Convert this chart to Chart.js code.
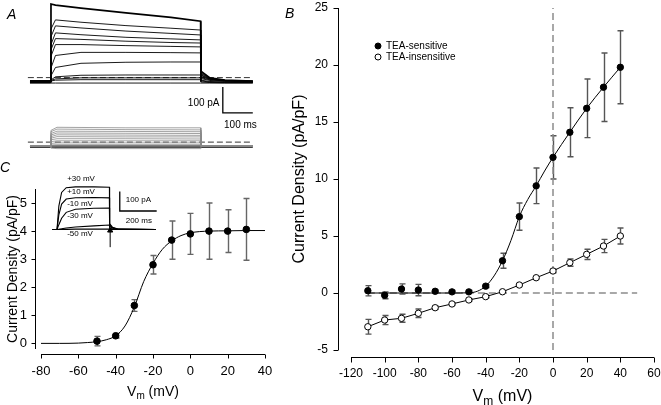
<!DOCTYPE html>
<html lang="en">
<head>
<meta charset="UTF-8">
<title>TEA-sensitive and TEA-insensitive currents</title>
<script src="https://cdn.jsdelivr.net/npm/chart.js"></script>
<style>
    body {
        margin: 0;
        background: #fff;
        overflow: hidden;
    }

    .fig {
        position: relative;
        width: 661px;
        height: 405px;
        overflow: hidden;
    }

    canvas {
        position: absolute;
    }

    #panelA { left: 0; top: 0; }
    #panelC { left: 0; top: 160px; }
    #insetC { left: 40px; top: 165px; }
    /* B canvas is larger than its slot so the tick label padding fits */
    #panelB { left: 260px; top: -24px; }
</style>
</head>
<body>
<div class="fig">
    <canvas id="panelA" width="260" height="160"></canvas>
    <canvas id="panelC" width="290" height="245"></canvas>
    <canvas id="insetC" width="130" height="90"></canvas>
    <canvas id="panelB" width="419" height="429"></canvas>
</div>

<script>
    // ---- panel A: current traces (ms, pA) ----
    const traceTime = [-70, -1, 0, 15, 100, 250, 400, 499, 500, 530, 580, 673];
    const topTraces = [
        [0, 0, 296, 292, 280, 262, 245, 230, 38, 12, 3, 0],
        [0, 0, 200, 235, 226, 213, 203, 196, 32, 10, 2, 0],
        [-2, -2, 170, 212, 204, 192, 183, 177, 28, 9, 2, -2],
        [-2, -2, 140, 185, 178, 168, 162, 158, 24, 8, 2, -2],
        [0, 0, 120, 163, 160, 153, 148, 146, 21, 7, 2, 0],
        [-3, -3, 95, 140, 140, 136, 133, 131, 17, 6, 1, -3],
        [-3, -3, 50, 98, 110, 110, 109, 108, 13, 4, 0, -3],
        [-5, -5, 20, 52, 68, 72, 73, 73, 9, 2, -2, -5],
        [-5, -5, 4, 16, 22, 23, 23, 23, 3, -2, -4, -5],
        [-6, -6, 2, 8, 12, 12, 12, 12, 0, -4, -6, -6],
        [-7, -7, 0, 3, 5, 5, 5, 5, -4, -6, -7, -7],
        [-8, -8, -8, -8, -8, -8, -8, -8, -8, -8, -8, -8]
    ];
    const bandTime = [-70, -1, 0, 20, 250, 499, 500, 673];
    const bottomTraces = [
        [0, 0, 60, 72, 70, 70, 0, 0],
        [0, 0, 55, 65, 63, 62, 0, 0],
        [0, 0, 48, 57, 56, 55, 0, 0],
        [0, 0, 42, 50, 49, 48, 0, 0],
        [0, 0, 36, 43, 42, 41, 0, 0],
        [0, 0, 30, 36, 35, 35, 0, 0],
        [0, 0, 24, 28, 28, 27, 0, 0],
        [0, 0, 17, 20, 20, 20, 0, 0],
        [0, 0, 10, 12, 12, 12, 0, 0],
        [0, 0, 4, 5, 5, 5, 0, 0],
        [0, 0, -3, -3, -3, -3, 0, 0],
        [0, 0, -8, -10, -10, -10, 0, 0]
    ];
    const bottomHold = [
        [0, 0, 0, 0, 0, 0, 0, 0],
        [-4, -4, -4, -4, -4, -4, -4, -4]
    ];
    const zeroLineT = [-77, 673];
    const topZero = [13, 13];
    const bottomZero = [15, 15];
    const barAT = [573, 573, 673];
    const barAI = [-23, -123, -123];

    // ---- panel B: I-V relations (mV, pA/pF) ----
    const ivVolt = [-110, -100, -90, -80, -70, -60, -50, -40, -30, -20, -10, 0, 10, 20, 30, 40];
    const teaSens = [0.2, -0.2, 0.35, 0.26, 0.15, 0.1, 0.1, 0.6, 2.83, 6.7, 9.4, 11.9, 14.1, 16.2, 18.05, 19.8];
    const teaSensErr = [0.45, 0.3, 0.45, 0.5, 0.12, 0.12, 0.12, 0.12, 0.66, 1.2, 1.56, 1.9, 2.15, 2.57, 3.0, 3.2];
    const teaIns = [-2.96, -2.37, -2.22, -1.78, -1.29, -0.96, -0.61, -0.32, 0.11, 0.7, 1.34, 1.93, 2.66, 3.39, 4.12, 5.0];
    const teaInsErr = [0.65, 0.4, 0.35, 0.37, 0.15, 0.1, 0.1, 0.1, 0.1, 0.1, 0.1, 0.15, 0.32, 0.45, 0.58, 0.7];
    const sensFitVolt = [-110, -100, -90, -80, -70, -60, -50, -45, -40, -35, -30, -25, -20, -15, -10, -5, 0, 10, 20, 30, 40];
    const sensFit = [0, 0, 0, 0, 0, 0, 0.02, 0.15, 0.6, 1.5, 2.83, 4.6, 6.7, 8.2, 9.4, 10.7, 11.9, 14.1, 16.2, 18.05, 19.8];
    const vZeroX = [0, 0];
    const vZeroY = [-5, 25];
    const hZeroX = [-110, 50];
    const hZeroY = [0, 0];
    const bXTicks = [-120, -100, -80, -60, -40, -20, 0, 20, 40, 60];
    const bYTicks = [-5, 0, 5, 10, 15, 20, 25];

    // ---- panel C: activation (mV, pA/pF) ----
    const actVolt = [-50, -40, -30, -20, -10, 0, 10, 20, 30];
    const actDens = [0.08, 0.27, 1.35, 2.8, 3.68, 3.9, 4.0, 4.0, 4.06];
    const actErr = [0.17, 0.08, 0.21, 0.33, 0.68, 0.73, 1.0, 0.76, 1.1];
    const actFitVolt = [-80, -70, -60, -55, -50, -45, -40, -35, -30, -25, -20, -15, -10, -5, 0, 10, 20, 30, 40];
    const actFit = [0, 0, 0.01, 0.03, 0.06, 0.13, 0.27, 0.62, 1.3, 2.2, 2.85, 3.35, 3.65, 3.84, 3.94, 4.0, 4.01, 4.02, 4.02];
    const cXTicks = [-80, -60, -40, -20, 0, 20, 40];
    const cYTicks = [0, 1, 2, 3, 4, 5];

    // ---- panel C inset traces (ms, pA) ----
    const insetTime = [-25, -1, 0, 10, 25, 50, 100, 200, 284, 285, 300, 330, 535];
    const insetTraces = [
        [0, 0, 0, 120, 190, 214, 218, 218, 216, 30, 12, 3, 0],
        [0, 0, 0, 75, 130, 156, 163, 164, 162, 24, 10, 2, 0],
        [0, 0, 0, 25, 58, 88, 104, 109, 110, 18, 7, 2, 0],
        [0, 0, 0, 2, 4, 8, 13, 19, 23, 8, 3, 1, 0],
        [0, 0, 0, 0, 1, 1, 2, 2, 2, 1, 0, 0, 0]
    ];
    const insetLabels = ['+30 mV', '+10 mV', '-10 mV', '-30 mV', '-50 mV'];
    const barInT = [340, 340, 540];
    const barInI = [195, 95, 95];
    const arrowT = [288, 288];
    const arrowI = [-90, -5];

    const FONT = 'Arial, "Liberation Sans", sans-serif';
    Chart.defaults.font.family = FONT;
    Chart.defaults.color = '#000';

    const pts = (xs, ys) => xs.map((x, i) => ({ x: x, y: ys[i] }));

    // axes drawn apart from the plot area, SigmaPlot style
    const offsetAxes = {
        id: 'offsetAxes',
        afterDraw(chart, args, o) {
            const { ctx, chartArea: a, scales: { x, y } } = chart;
            const yx = Math.round(a.left - o.gapY) + 0.5;
            const xy = Math.round(a.bottom + o.gapX) + 0.5;
            ctx.save();
            ctx.strokeStyle = '#000';
            ctx.lineWidth = 1;
            ctx.beginPath();
            ctx.moveTo(yx, y.getPixelForValue(y.max));
            ctx.lineTo(yx, y.getPixelForValue(y.min));
            y.ticks.forEach(t => {
                const p = Math.round(y.getPixelForValue(t.value)) + 0.5;
                ctx.moveTo(yx, p);
                ctx.lineTo(yx - o.tick, p);
            });
            ctx.moveTo(x.getPixelForValue(x.min), xy);
            ctx.lineTo(x.getPixelForValue(x.max), xy);
            x.ticks.forEach(t => {
                const p = Math.round(x.getPixelForValue(t.value)) + 0.5;
                ctx.moveTo(p, xy);
                ctx.lineTo(p, xy + o.tick);
            });
            ctx.stroke();
            ctx.restore();
        }
    };

    const errorBars = {
        id: 'errorBars',
        beforeDatasetsDraw(chart) {
            const { ctx, scales: { x, y } } = chart;
            chart.data.datasets.forEach(ds => {
                if (!ds.errors) return;
                ctx.save();
                ctx.strokeStyle = ds.errorColor || '#555';
                ctx.lineWidth = 1.4;
                ds.data.forEach((p, i) => {
                    const px = Math.round(x.getPixelForValue(p.x)) + 0.5;
                    const top = y.getPixelForValue(p.y + ds.errors[i]);
                    const bot = y.getPixelForValue(p.y - ds.errors[i]);
                    ctx.beginPath();
                    ctx.moveTo(px, top); ctx.lineTo(px, bot);
                    ctx.moveTo(px - 3, top); ctx.lineTo(px + 3, top);
                    ctx.moveTo(px - 3, bot); ctx.lineTo(px + 3, bot);
                    ctx.stroke();
                });
                ctx.restore();
            });
        }
    };

    // "Vm (mV)" with subscript m
    const vmTitle = {
        id: 'vmTitle',
        afterDraw(chart, args, o) {
            const { ctx, chartArea: a } = chart;
            const big = o.size + 'px ' + FONT, small = Math.round(o.size * 0.72) + 'px ' + FONT;
            ctx.save();
            ctx.fillStyle = '#000';
            ctx.textBaseline = 'middle';
            ctx.font = big;
            const w1 = ctx.measureText('V').width, w3 = ctx.measureText(' (mV)').width;
            ctx.font = small;
            const w2 = ctx.measureText('m').width;
            let x0 = (a.left + a.right) / 2 - (w1 + w2 + w3) / 2;
            const y0 = a.bottom + o.dy;
            ctx.font = big;
            ctx.fillText('V', x0, y0);
            ctx.font = small;
            ctx.fillText('m', x0 + w1, y0 + o.size * 0.3);
            ctx.font = big;
            ctx.fillText(' (mV)', x0 + w1 + w2, y0);
            ctx.restore();
        }
    };

    const panelTag = {
        id: 'panelTag',
        afterDraw(chart, args, o) {
            const ctx = chart.ctx;
            ctx.save();
            ctx.font = 'italic ' + o.size + 'px ' + FONT;
            ctx.fillStyle = '#000';
            ctx.textBaseline = 'middle';
            ctx.fillText(o.text, o.x, o.y);
            ctx.restore();
        }
    };

    // text placed at data coordinates
    const notes = {
        id: 'notes',
        afterDraw(chart, args, o) {
            const { ctx, scales } = chart;
            const ys = scales[o.yAxis || 'y'];
            ctx.save();
            ctx.font = o.size + 'px ' + FONT;
            ctx.fillStyle = '#000';
            ctx.textBaseline = 'middle';
            o.items.forEach(it => {
                ctx.textAlign = it.align || 'left';
                ctx.fillText(it.text, scales.x.getPixelForValue(it.x), ys.getPixelForValue(it.y));
            });
            ctx.restore();
        }
    };

    const ivLegend = {
        id: 'ivLegend',
        afterDraw(chart, args, o) {
            const ctx = chart.ctx;
            ctx.save();
            ctx.font = o.size + 'px ' + FONT;
            ctx.textBaseline = 'middle';
            o.datasets.forEach((k, i) => {
                const ds = chart.data.datasets[k];
                const y = o.y + i * o.gap;
                ctx.beginPath();
                ctx.arc(o.x, y, 3, 0, Math.PI * 2);
                ctx.fillStyle = ds.pointBackgroundColor;
                ctx.fill();
                ctx.lineWidth = 1;
                ctx.strokeStyle = '#000';
                ctx.stroke();
                ctx.fillStyle = '#000';
                ctx.fillText(ds.label, o.x + 8, y);
            });
            ctx.restore();
        }
    };

    const fixTicks = list => scale => { scale.ticks = list.map(v => ({ value: v })); };
    const hidden = { display: false };

    // ---- panel A ----
    const aSets = [];
    topTraces.forEach((tr, i) => aSets.push({
        data: pts(traceTime, tr), yAxisID: 'y',
        borderColor: '#000', borderWidth: i === 0 ? 1.7 : 0.9
    }));
    bottomTraces.forEach(tr => aSets.push({
        data: pts(bandTime, tr), yAxisID: 'y2',
        borderColor: '#8a8a8a', borderWidth: 0.8
    }));
    bottomHold.forEach(tr => aSets.push({
        data: pts(bandTime, tr), yAxisID: 'y2',
        borderColor: '#000', borderWidth: 1.2
    }));
    aSets.push({ data: pts(zeroLineT, topZero), yAxisID: 'y', borderColor: '#000', borderWidth: 0.8, borderDash: [6, 3] });
    aSets.push({ data: pts(zeroLineT, bottomZero), yAxisID: 'y2', borderColor: '#000', borderWidth: 0.8, borderDash: [6, 3] });
    aSets.push({ data: pts(barAT, barAI), yAxisID: 'y', borderColor: '#000', borderWidth: 1.3 });

    new Chart(document.getElementById('panelA'), {
        type: 'scatter',
        data: { datasets: aSets.map(d => Object.assign({ showLine: true, pointRadius: 0, fill: false }, d)) },
        options: {
            responsive: false, animation: false, devicePixelRatio: 1,
            layout: { padding: 0 },
            plugins: {
                legend: hidden, tooltip: { enabled: false },
                panelTag: { text: 'A', x: 7, y: 15, size: 14 },
                notes: {
                    size: 10, items: [
                        { text: '100 pA', x: 562, y: -85, align: 'right' },
                        { text: '100 ms', x: 577, y: -170 }
                    ]
                }
            },
            scales: {
                x: { type: 'linear', min: -170, max: 697, display: false },
                y: { min: -304, max: 311.5, display: false },
                y2: { min: -53.8, max: 561.5, display: false }
            }
        },
        plugins: [panelTag, notes]
    });

    // ---- panel B ----
    new Chart(document.getElementById('panelB'), {
        type: 'scatter',
        data: {
            datasets: [
                {
                    label: 'TEA-sensitive', data: pts(ivVolt, teaSens), errors: teaSensErr, errorColor: '#555',
                    pointRadius: 3.2, pointBackgroundColor: '#000', pointBorderColor: '#000', showLine: false, order: 1
                },
                {
                    label: 'TEA-insensitive', data: pts(ivVolt, teaIns), errors: teaInsErr, errorColor: '#555',
                    pointRadius: 3.2, pointBackgroundColor: '#fff', pointBorderColor: '#000', pointBorderWidth: 1,
                    showLine: true, borderColor: '#000', borderWidth: 1, order: 2
                },
                {
                    label: 'fit', data: pts(sensFitVolt, sensFit), showLine: true, pointRadius: 0,
                    borderColor: '#000', borderWidth: 1, tension: 0.4, cubicInterpolationMode: 'monotone', order: 3
                },
                {
                    label: 'zero V', data: pts(vZeroX, vZeroY), showLine: true, pointRadius: 0,
                    borderColor: '#8c8c8c', borderWidth: 1.5, borderDash: [7, 4], order: 4
                },
                {
                    label: 'zero I', data: pts(hZeroX, hZeroY), showLine: true, pointRadius: 0,
                    borderColor: '#8c8c8c', borderWidth: 1.5, borderDash: [7, 4], order: 5
                }
            ]
        },
        options: {
            responsive: false, animation: false, devicePixelRatio: 1,
            layout: { padding: { left: 0, top: 32, right: 25, bottom: 0 } },
            plugins: {
                legend: hidden, tooltip: { enabled: false },
                offsetAxes: { gapY: 13, gapX: 7, tick: 5 },
                vmTitle: { size: 16, dy: 47 },
                panelTag: { text: 'B', x: 25, y: 38, size: 14 },
                ivLegend: { datasets: [0, 1], x: 118, y: 70, gap: 11, size: 10 }
            },
            scales: {
                x: {
                    type: 'linear', min: -120, max: 60,
                    afterBuildTicks: fixTicks(bXTicks),
                    afterFit: s => { s.height = 55; },
                    grid: { display: false, drawTicks: false }, border: { display: false },
                    ticks: { font: { size: 12 }, padding: 16, maxRotation: 0, autoSkip: false }
                },
                y: {
                    min: -5, max: 25,
                    afterBuildTicks: fixTicks(bYTicks),
                    afterFit: s => { s.width = 91; },
                    grid: { display: false, drawTicks: false }, border: { display: false },
                    ticks: { font: { size: 12 }, padding: 23 },
                    title: { display: true, text: 'Current Density (pA/pF)', font: { size: 16 }, padding: { top: 30 } }
                }
            }
        },
        plugins: [errorBars, offsetAxes, vmTitle, panelTag, ivLegend]
    });

    // ---- panel C ----
    new Chart(document.getElementById('panelC'), {
        type: 'scatter',
        data: {
            datasets: [
                {
                    label: 'activation', data: pts(actVolt, actDens), errors: actErr, errorColor: '#666',
                    pointRadius: 3.3, pointBackgroundColor: '#000', pointBorderColor: '#000', showLine: false, order: 1
                },
                {
                    label: 'Boltzmann fit', data: pts(actFitVolt, actFit), showLine: true, pointRadius: 0,
                    borderColor: '#000', borderWidth: 1, tension: 0.4, cubicInterpolationMode: 'monotone', order: 2
                }
            ]
        },
        options: {
            responsive: false, animation: false, devicePixelRatio: 1,
            layout: { padding: { left: 0, top: 29, right: 25, bottom: 0 } },
            plugins: {
                legend: hidden, tooltip: { enabled: false },
                offsetAxes: { gapY: 6, gapX: 5, tick: 4 },
                vmTitle: { size: 14, dy: 43 },
                panelTag: { text: 'C', x: 0, y: 8, size: 14 }
            },
            scales: {
                x: {
                    type: 'linear', min: -80, max: 40,
                    afterBuildTicks: fixTicks(cXTicks),
                    afterFit: s => { s.height = 56; },
                    grid: { display: false, drawTicks: false }, border: { display: false },
                    ticks: { font: { size: 13 }, padding: 15, maxRotation: 0, autoSkip: false }
                },
                y: {
                    min: -0.2, max: 5.5,
                    afterBuildTicks: fixTicks(cYTicks),
                    afterFit: s => { s.width = 41; },
                    grid: { display: false, drawTicks: false }, border: { display: false },
                    ticks: { font: { size: 13 }, padding: 14 },
                    title: { display: true, text: 'Current Density (pA/pF)', font: { size: 14 }, padding: { top: 5 } }
                }
            }
        },
        plugins: [errorBars, offsetAxes, vmTitle, panelTag]
    });

    // ---- panel C inset ----
    const inSets = insetTraces.map(tr => ({ data: pts(insetTime, tr), borderColor: '#000', borderWidth: 1.1 }));
    inSets.push({ data: pts(barInT, barInI), borderColor: '#000', borderWidth: 1.3 });
    inSets.push({
        data: pts(arrowT, arrowI), borderColor: '#000', borderWidth: 1,
        pointStyle: 'triangle', pointRadius: [0, 3], pointBackgroundColor: '#000', pointBorderColor: '#000'
    });

    new Chart(document.getElementById('insetC'), {
        type: 'scatter',
        data: { datasets: inSets.map(d => Object.assign({ showLine: true, pointRadius: 0, fill: false }, d)) },
        options: {
            responsive: false, animation: false, devicePixelRatio: 1,
            layout: { padding: 0 },
            plugins: {
                legend: hidden, tooltip: { enabled: false },
                notes: {
                    size: 8, items: [
                        { text: insetLabels[0], x: 55, y: 259 },
                        { text: insetLabels[1], x: 55, y: 195 },
                        { text: insetLabels[2], x: 55, y: 132 },
                        { text: insetLabels[3], x: 55, y: 68 },
                        { text: insetLabels[4], x: 55, y: -23 },
                        { text: '100 pA', x: 372, y: 150 },
                        { text: '200 ms', x: 372, y: 45 }
                    ]
                }
            },
            scales: {
                x: { type: 'linear', min: -65, max: 585, display: false },
                y: { min: -104.5, max: 304.5, display: false }
            }
        },
        plugins: [notes]
    });
</script>
</body>
</html>
